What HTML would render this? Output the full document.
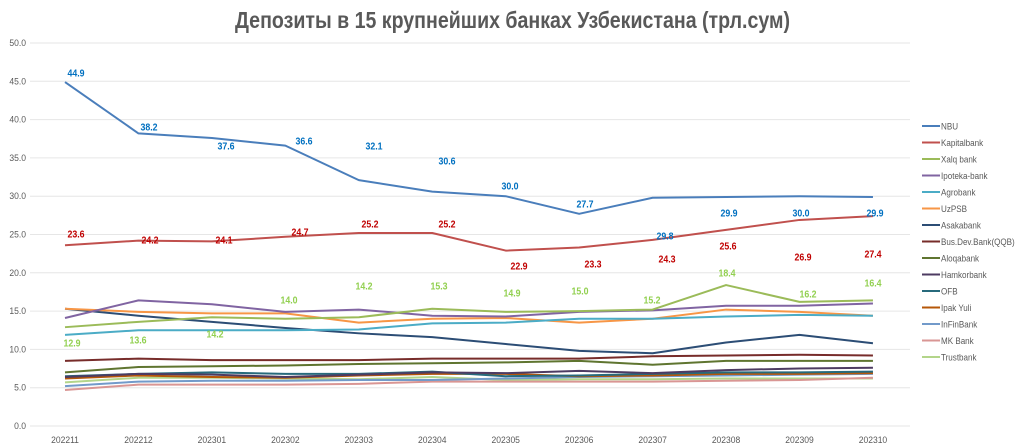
<!DOCTYPE html>
<html><head><meta charset="utf-8"><style>
html,body{margin:0;padding:0;background:#fff;}
svg{display:block;font-family:"Liberation Sans",sans-serif;}
</style></head><body>
<svg id="c" width="1024" height="447" xmlns="http://www.w3.org/2000/svg"></svg>
<script>
const s=document.getElementById('c');
let h='';
const Y=v=>426-7.66*v, X=i=>65+73.45*i;
h+='<text x="235" y="28" textLength="555" lengthAdjust="spacingAndGlyphs" font-weight="bold" font-size="23" fill="#595959">Депозиты в 15 крупнейших банках Узбекистана (трл.сум)</text>';
for(let v=0;v<=50;v+=5){const y=Y(v);h+=`<line x1="30" x2="910" y1="${y}" y2="${y}" stroke="#e6e6e6" stroke-width="1"/>`;
h+=`<text transform="translate(26,${y+3}) scale(0.9,1)" text-anchor="end" font-size="9.5" fill="#595959">${v.toFixed(1)}</text>`;}
const lab=['202211','202212','202301','202302','202303','202304','202305','202306','202307','202308','202309','202310'];
lab.forEach((l,i)=>h+=`<text transform="translate(${X(i)},443) scale(0.9,1)" text-anchor="middle" font-size="9.5" fill="#595959">${l}</text>`);
const S=[
['NBU','#4a7ebb',[44.9,38.2,37.6,36.6,32.1,30.6,30.0,27.7,29.8,29.9,30.0,29.9]],
['Kapitalbank','#c0504d',[23.6,24.2,24.1,24.7,25.2,25.2,22.9,23.3,24.3,25.6,26.9,27.4]],
['Xalq bank','#9bbb59',[12.9,13.6,14.2,14.0,14.2,15.3,14.9,15.0,15.2,18.4,16.2,16.4]],
['Ipoteka-bank','#8064a2',[14.1,16.4,15.9,14.9,15.2,14.4,14.3,14.9,15.1,15.7,15.7,16.0]],
['Agrobank','#4bacc6',[11.9,12.5,12.5,12.5,12.6,13.4,13.5,14.0,14.0,14.3,14.5,14.4]],
['UzPSB','#f79646',[15.3,14.9,14.7,14.7,13.5,14.0,14.1,13.5,14.0,15.2,14.9,14.4]],
['Asakabank','#2c4d75',[15.3,14.4,13.6,12.8,12.1,11.6,10.7,9.8,9.5,10.9,11.9,10.8]],
['Bus.Dev.Bank(QQB)','#772c2a',[8.5,8.8,8.6,8.6,8.6,8.8,8.8,8.8,9.1,9.2,9.3,9.2]],
['Aloqabank','#5f7530',[7.0,7.7,7.8,7.9,8.1,8.2,8.3,8.5,8.0,8.5,8.5,8.5]],
['Hamkorbank','#4d3b62',[6.4,6.8,6.7,6.4,6.7,7.0,6.9,7.2,6.9,7.3,7.5,7.6]],
['OFB','#276a7c',[6.5,6.8,7.0,6.8,6.8,7.1,6.5,6.6,6.8,7.0,7.0,7.1]],
['Ipak Yuli','#b65708',[6.2,6.6,6.4,6.3,6.6,6.8,6.8,6.5,6.6,6.8,6.8,6.9]],
['InFinBank','#729aca',[5.2,5.8,5.9,5.9,6.0,6.0,6.2,6.4,6.5,6.6,6.7,6.8]],
['MK Bank','#d99694',[4.7,5.4,5.4,5.4,5.5,5.8,5.8,5.8,5.8,5.9,6.0,6.3]],
['Trustbank','#b3d58a',[5.7,6.3,6.3,6.2,6.1,6.4,6.0,6.1,6.1,6.2,6.2,6.2]]];
for(let k=S.length-1;k>=0;k--){const [n,c,d]=S[k];
h+=`<polyline fill="none" stroke="${c}" stroke-width="2" stroke-linejoin="round" points="${d.map((v,i)=>X(i)+','+Y(v)).join(' ')}"/>`;}
S.forEach(([n,c],k)=>{const y=126+16.5*k;h+=`<line x1="922" x2="940" y1="${y}" y2="${y}" stroke="${c}" stroke-width="2"/><text transform="translate(941,${y+3.5}) scale(0.85,1)" font-size="9.5" fill="#595959">${n}</text>`;});
const L=[
['#0070c0',[[76,73],[149,127],[226,146],[304,141],[374,146],[447,161],[510,186],[585,204],[665,236],[729,213],[801,213],[875,213]],S[0][2]],
['#c00000',[[76,234],[150,240],[224,240],[300,232],[370,224],[447,224],[519,266],[593,264],[667,259],[728,246],[803,257],[873,254]],S[1][2]],
['#92d050',[[72,343],[138,340],[215,334],[289,300],[364,286],[439,286],[512,293],[580,291],[652,300],[727,273],[808,294],[873,283]],S[2][2]]];
L.forEach(([c,p,d])=>p.forEach(([x,y],i)=>h+=`<text transform="translate(${x},${y+3.5}) scale(0.88,1)" text-anchor="middle" font-size="10" font-weight="bold" fill="${c}">${d[i].toFixed(1)}</text>`));
s.innerHTML=h;
</script>
</body></html>
